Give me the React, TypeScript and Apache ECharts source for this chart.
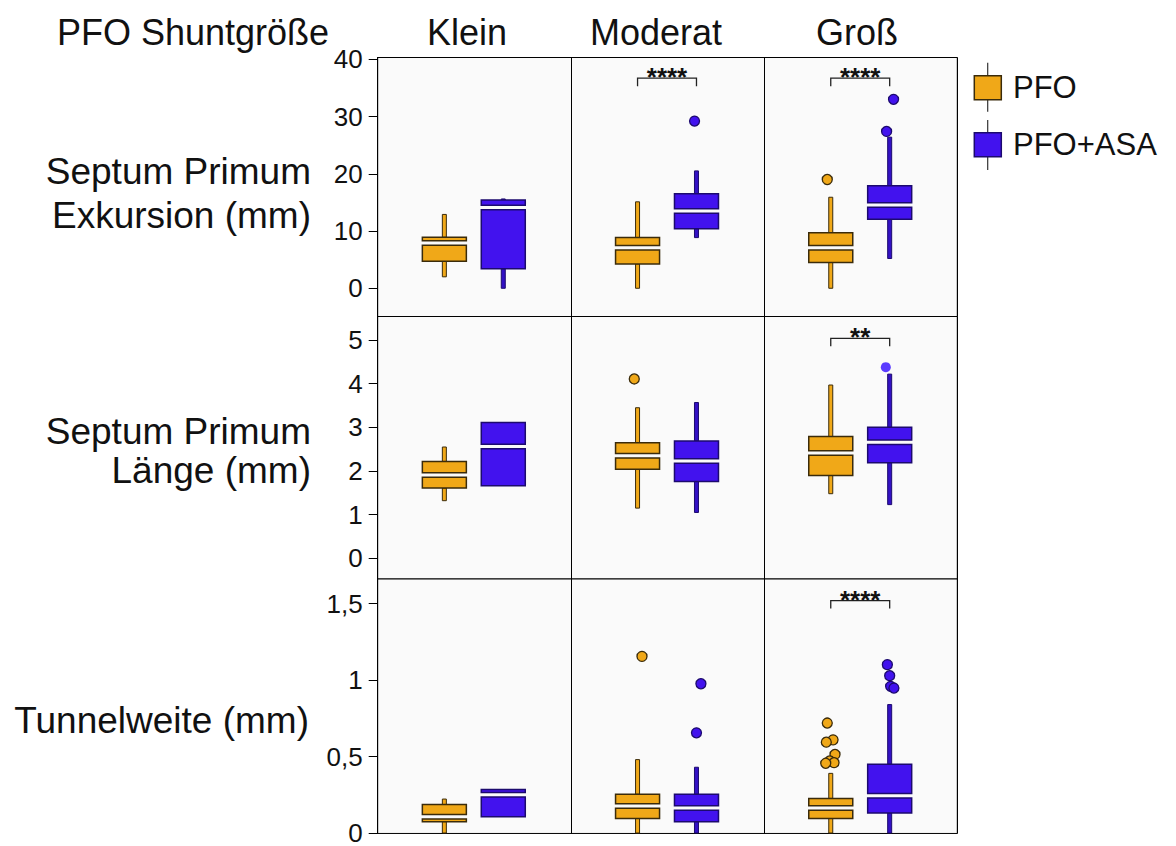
import React, { useEffect, useRef } from 'react';
import * as echarts from 'echarts';

// ---------- DATA ----------
const columns = ['Klein', 'Moderat', 'Groß'];
const groups = ['PFO', 'PFO+ASA'];
const headerLabel = 'PFO Shuntgröße';
const rowLabels = [
  ['Septum Primum', 'Exkursion (mm)'],
  ['Septum Primum', 'Länge (mm)'],
  ['Tunnelweite (mm)'],
];

// box stats per column: [lower whisker, Q1, median, Q3, upper whisker]
const exkursionPFO = [
  [2.0, 4.7, 7.9, 8.9, 12.9],
  [0, 4.25, 7.1, 8.85, 15.1],
  [0, 4.5, 7.1, 9.7, 15.9],
];
const exkursionASA = [
  [0, 3.4, 14.1, 15.4, 15.6],
  [8.85, 10.4, 13.5, 16.5, 20.5],
  [5.2, 12.05, 14.55, 17.9, 26.4],
];
// outliers per column: [value, jitter]
const exkursionPFOOut = [[], [], [[19.0, -0.018]]];
const exkursionASAOut = [[], [[29.2, -0.01]], [[33.0, 0.02], [27.4, -0.016]]];

const laengePFO = [
  [1.32, 1.61, 1.91, 2.22, 2.55],
  [1.15, 2.04, 2.35, 2.65, 3.45],
  [1.48, 1.9, 2.41, 2.79, 3.97],
];
const laengeASA = [
  [1.66, 1.66, 2.56, 3.11, 3.11],
  [1.05, 1.76, 2.23, 2.69, 3.57],
  [1.23, 2.19, 2.66, 3.0, 4.22],
];
const laengePFOOut = [[], [[4.11, -0.017]], []];
const laengeASAOut = [[], [], [[4.38, -0.02, 1]]];

const tunnelPFO = [
  [0, 0.074, 0.106, 0.186, 0.222],
  [0, 0.095, 0.177, 0.253, 0.48],
  [0, 0.095, 0.163, 0.226, 0.39],
];
const tunnelASA = [
  [0.106, 0.106, 0.25, 0.285, 0.285],
  [0, 0.074, 0.163, 0.253, 0.43],
  [0, 0.131, 0.243, 0.45, 0.84],
];
const tunnelPFOOut = [
  [],
  [[1.155, 0.023]],
  [[0.719, -0.018], [0.609, 0.012], [0.594, -0.023], [0.514, 0.022], [0.471, -0.005], [0.46, 0.017], [0.456, -0.026]],
];
const tunnelASAOut = [
  [],
  [[0.976, 0.023], [0.655, 0]],
  [[1.101, -0.012], [1.029, 0], [0.959, 0.005], [0.948, 0.022]],
];

const ticksExkursion = [0, 10, 20, 30, 40];
const ticksLaenge = [0, 1, 2, 3, 4, 5];
const ticksTunnel = [0, 0.5, 1, 1.5];

// significance brackets
const sigRow = [0, 0, 1, 2];
const sigCol = [1, 2, 2, 2];
const sigHeight = [36.7, 36.7, 5.04, 1.52];
const sigLabel = ['****', '****', '**', '****'];

// ---------- STYLE / LAYOUT ----------
const FILL = ['#F0A818', '#4212EE'];
const WHISKER = ['#F0A818', '#3311C4'];
const STROKE = ['#3a2b0b', '#1c0a6e'];
const OFFSET = [0.345, 0.65];
const FONT = '"Liberation Sans", Arial, Helvetica, sans-serif';
const GRID_LEFT = 377.7;
const GRID_WIDTH = 579.6;

const rows = [
  { pfo: exkursionPFO, asa: exkursionASA, pfoOut: exkursionPFOOut, asaOut: exkursionASAOut, min: -4.93, max: 40.31, ticks: ticksExkursion, top: 57.5, height: 259 },
  { pfo: laengePFO, asa: laengeASA, pfoOut: laengePFOOut, asaOut: laengeASAOut, min: -0.474, max: 5.54, ticks: ticksLaenge, top: 316.5, height: 262.5 },
  { pfo: tunnelPFO, asa: tunnelASA, pfoOut: tunnelPFOOut, asaOut: tunnelASAOut, min: -0.003, max: 1.661, ticks: ticksTunnel, top: 579, height: 261.5 },
];

function buildOption() {
  const grid: any[] = [];
  const xAxis: any[] = [];
  const yAxis: any[] = [];
  const series: any[] = [];

  rows.forEach((row, r) => {
    grid.push({
      left: GRID_LEFT, top: row.top, width: GRID_WIDTH, height: row.height,
      show: true, borderColor: '#000', borderWidth: 1, backgroundColor: '#fafafa',
    });
    xAxis.push({
      type: 'value', gridIndex: r, min: 0, max: columns.length, interval: 1,
      axisLine: { show: false }, axisTick: { show: false }, axisLabel: { show: false },
      splitLine: { show: true, lineStyle: { color: '#000', width: 1 } },
    });
    yAxis.push({
      type: 'value', gridIndex: r, min: row.min, max: row.max,
      axisLine: { show: true, lineStyle: { color: '#000', width: 1 } },
      axisTick: { show: true, length: 9, customValues: row.ticks, lineStyle: { color: '#000', width: 1 } },
      axisLabel: {
        customValues: row.ticks, color: '#111', fontSize: 26, fontFamily: FONT, margin: 15,
        formatter: (v: number) => String(v).replace('.', ','),
      },
      splitLine: { show: false },
    });

    const boxData: any[] = [];
    columns.forEach((_, c) => {
      boxData.push([c + OFFSET[0], ...row.pfo[c], 0]);
      boxData.push([c + OFFSET[1], ...row.asa[c], 1]);
    });
    series.push({
      type: 'custom', xAxisIndex: r, yAxisIndex: r, silent: true, z: 3,
      encode: { x: 0, y: [1, 2, 3, 4, 5] },
      data: boxData,
      renderItem: (params: any, api: any) => {
        const x = api.value(0);
        const g = api.value(6);
        const py = (v: number) => api.coord([x, v])[1];
        const cx = api.coord([x, 0])[0];
        const yLow = py(api.value(1));
        const yQ1 = py(api.value(2));
        const yMed = py(api.value(3));
        const yQ3 = py(api.value(4));
        const yHigh = py(api.value(5));
        const fill = FILL[g];
        const wf = WHISKER[g];
        const stroke = STROKE[g];
        const hw = 22, ww = 2, gap = 2.25;
        const children: any[] = [];
        if (yLow - yQ1 > 0.5) children.push({ type: 'rect', shape: { x: cx - ww, y: yQ1, width: 2 * ww, height: yLow - yQ1 }, style: { fill: wf, stroke, lineWidth: 1 } });
        if (yQ3 - yHigh > 0.5) children.push({ type: 'rect', shape: { x: cx - ww, y: yHigh, width: 2 * ww, height: yQ3 - yHigh }, style: { fill: wf, stroke, lineWidth: 1 } });
        const upH = yMed - gap - yQ3;
        if (upH > 0) children.push({ type: 'rect', shape: { x: cx - hw, y: yQ3, width: 2 * hw, height: upH }, style: { fill, stroke, lineWidth: 1.5 } });
        const loTop = yMed + gap;
        if (yQ1 - loTop > 0) children.push({ type: 'rect', shape: { x: cx - hw, y: loTop, width: 2 * hw, height: yQ1 - loTop }, style: { fill, stroke, lineWidth: 1.5 } });
        return { type: 'group', children };
      },
    });

    [row.pfoOut, row.asaOut].forEach((outs, g) => {
      const data: any[] = [];
      outs.forEach((list: any[], c: number) => {
        list.forEach((o: number[]) => {
          const item: any = { value: [c + OFFSET[g] + o[1], o[0]] };
          if (o[2]) item.itemStyle = { color: '#5a3bff', borderWidth: 0 };
          data.push(item);
        });
      });
      series.push({
        type: 'scatter', xAxisIndex: r, yAxisIndex: r, silent: true, z: 4,
        symbol: 'circle', symbolSize: 10,
        itemStyle: { color: FILL[g], borderColor: STROKE[g], borderWidth: 1.3, opacity: 1 },
        data,
      });
    });

    const sigIdx = sigRow.map((rr, i) => (rr === r ? i : -1)).filter((i) => i >= 0);
    if (sigIdx.length) {
      series.push({
        type: 'custom', xAxisIndex: r, yAxisIndex: r, silent: true, z: 5,
        encode: { x: [0, 1], y: 2 },
        data: sigIdx.map((i) => [sigCol[i] + OFFSET[0], sigCol[i] + OFFSET[1], sigHeight[i]]),
        renderItem: (params: any, api: any) => {
          const i = sigIdx[params.dataIndex];
          const p1 = api.coord([api.value(0), api.value(2)]);
          const p2 = api.coord([api.value(1), api.value(2)]);
          return {
            type: 'group',
            children: [
              { type: 'polyline', shape: { points: [[p1[0], p1[1] + 8], p1, p2, [p2[0], p2[1] + 8]] }, style: { stroke: '#222', lineWidth: 1.3, fill: 'none' } },
              { type: 'text', style: { text: sigLabel[i], x: (p1[0] + p2[0]) / 2, y: p1[1] - 1, align: 'center', verticalAlign: 'middle', fontSize: 26, fontWeight: 'bold', fontFamily: FONT, fill: '#111' } },
            ],
          };
        },
      });
    }
  });

  const txt = (text: string, x: number, y: number, align: string, fontSize: number) => ({
    type: 'text', silent: true,
    style: { text, x, y, align, verticalAlign: 'middle', textAlign: align, textVerticalAlign: 'middle', fontSize, fontFamily: FONT, fill: '#111' },
  });

  const colCenters = [467, 656, 857];
  const graphic: any[] = [
    txt(headerLabel, 57, 32, 'left', 36),
    ...columns.map((c, i) => txt(c, colCenters[i], 32, 'center', 36)),
    txt(rowLabels[0][0], 311, 171, 'right', 37),
    txt(rowLabels[0][1], 311, 215, 'right', 37),
    txt(rowLabels[1][0], 311, 431, 'right', 37),
    txt(rowLabels[1][1], 311, 470, 'right', 37),
    txt(rowLabels[2][0], 309, 720, 'right', 37),
  ];
  // legend
  const legY = [[62.7, 75.7, 111.7], [120, 132.7, 170]];
  groups.forEach((gname, g) => {
    graphic.push({ type: 'line', silent: true, shape: { x1: 987.7, y1: legY[g][0], x2: 987.7, y2: legY[g][2] }, style: { stroke: '#333', lineWidth: 1.2 } });
    graphic.push({ type: 'rect', silent: true, shape: { x: 974.3, y: legY[g][1], width: 27, height: 24 }, style: { fill: FILL[g], stroke: STROKE[g], lineWidth: 1.5 } });
    graphic.push(txt(gname, 1013, legY[g][1] + 12, 'left', 31));
  });

  return { animation: false, backgroundColor: '#fff', grid, xAxis, yAxis, series, graphic };
}

export default function App() {
  const ref = useRef<HTMLDivElement>(null);
  useEffect(() => {
    if (!ref.current) return;
    const chart = echarts.init(ref.current, undefined, { renderer: 'svg' });
    chart.setOption(buildOption() as any);
    return () => chart.dispose();
  }, []);
  return <div ref={ref} style={{ position: 'fixed', left: 0, top: 0, width: 1176, height: 846, background: '#fff' }} />;
}
